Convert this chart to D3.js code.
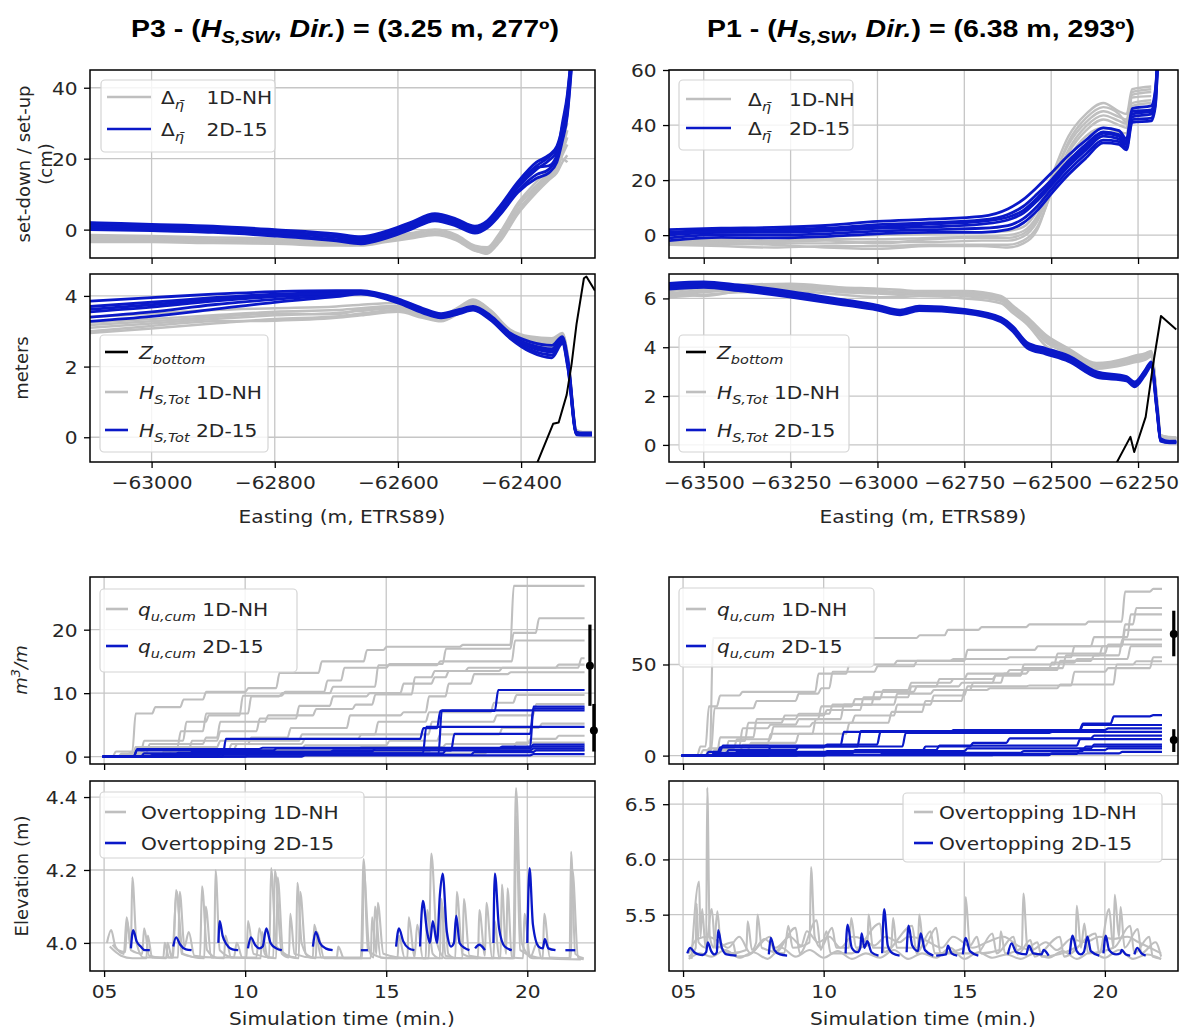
<!DOCTYPE html>
<html>
<head>
<meta charset="utf-8">
<script src="https://cdn.jsdelivr.net/npm/d3@7"></script>
<style>
  body { margin: 0; background: #fff; }
  svg { display: block; }
</style>
</head>
<body>
<svg id="fig" width="1187" height="1035"></svg>
<script>
// ---------------------------------------------------------------
// Data
// ---------------------------------------------------------------

// Set-down / set-up (cm), P3 transect
const eastA = [-63100, -63000, -62900, -62800, -62700, -62660, -62620, -62580, -62540, -62505, -62475, -62455, -62435, -62405, -62375, -62355, -62342, -62333, -62325, -62318];
const setupP3_2D = [
  [2.0, 1.5, 1.0, 0.0, -1.2, -2.0, -0.5, 2.0, 4.5, 3.0, 1.0, 2.5, 6.5, 13.5, 19.0, 21.0, 23.5, 29.0, 37.0, 50],
  [1.5, 1.0, 0.5, -0.5, -1.8, -2.5, -1.0, 1.5, 4.0, 2.5, 0.5, 2.0, 6.0, 13.0, 18.0, 20.5, 23.0, 28.0, 36.0, 49],
  [1.0, 0.5, 0.0, -1.0, -2.2, -3.0, -1.5, 1.0, 3.5, 2.0, -0.2, 1.5, 5.0, 12.0, 17.0, 19.5, 22.0, 27.0, 35.0, 48],
  [0.5, 0.0, -0.5, -1.5, -2.8, -3.5, -2.0, 0.5, 3.0, 1.5, -0.5, 1.0, 4.5, 11.0, 15.5, 17.0, 20.5, 26.0, 33.0, 47],
  [0.0, -0.3, -0.8, -1.8, -3.2, -4.0, -2.5, 0.0, 2.5, 1.0, -1.0, 0.5, 4.0, 10.5, 14.5, 16.0, 19.0, 25.0, 32.0, 46],
  [1.8, 1.2, 0.3, -0.8, -2.0, -2.8, -1.2, 1.2, 3.8, 2.2, 0.2, 1.8, 5.5, 12.5, 17.5, 18.0, 21.0, 30.0, 38.0, 50]
];
const setupP3_1D = [
  [-1.5, -1.8, -2.2, -2.5, -3.0, -3.0, -2.0, -1.0, 0.0, -1.5, -4.5, -5.0, -1.0, 7.5, 13.5, 17.0, 19.0, 23.0, 28.0, null],
  [-2.0, -2.3, -2.8, -3.0, -3.5, -3.5, -2.5, -1.5, -0.5, -2.0, -5.0, -5.5, -2.0, 6.5, 12.5, 16.0, 18.0, 22.0, 26.0, null],
  [-2.5, -2.8, -3.2, -3.5, -4.0, -4.0, -3.0, -2.0, -1.0, -2.5, -5.5, -6.0, -2.5, 5.5, 11.5, 15.0, 17.0, 21.0, 24.0, null],
  [-3.0, -3.2, -3.6, -3.8, -4.3, -4.5, -3.5, -2.5, -1.5, -3.0, -6.0, -6.5, -3.5, 4.5, 10.5, 14.0, 16.0, 19.0, 21.0, null],
  [-3.5, -3.5, -3.8, -4.0, -4.5, -4.2, -3.2, -2.0, -1.2, -2.8, -5.8, -6.8, -3.0, 5.0, 11.0, 14.5, 17.5, 25.0, 30.0, null],
  [-2.2, -2.5, -3.0, -3.2, -3.8, -3.8, -2.8, -1.8, -0.8, -2.2, -5.2, -5.8, -1.5, 7.0, 12.0, 15.5, 18.5, 20.0, 19.0, null]
];

// Significant wave height (m), P3 transect
const eastB = [-63100, -63000, -62900, -62800, -62700, -62660, -62600, -62560, -62530, -62500, -62478, -62450, -62418, -62385, -62350, -62333, -62324, -62310, -62300, -62285];
const hsP3_2D = [
  [3.85, 3.95, 4.05, 4.12, 4.15, 4.15, 3.92, 3.65, 3.50, 3.62, 3.70, 3.45, 2.95, 2.70, 2.60, 2.85, 2.20, 0.15, 0.12, 0.12],
  [3.70, 3.82, 3.95, 4.05, 4.10, 4.12, 3.88, 3.60, 3.45, 3.58, 3.66, 3.40, 2.90, 2.62, 2.50, 2.80, 2.10, 0.12, 0.10, 0.10],
  [3.55, 3.68, 3.85, 3.98, 4.06, 4.10, 3.85, 3.57, 3.42, 3.55, 3.64, 3.37, 2.86, 2.55, 2.42, 2.75, 2.05, 0.10, 0.08, 0.08],
  [3.40, 3.55, 3.75, 3.90, 4.02, 4.08, 3.83, 3.55, 3.40, 3.52, 3.62, 3.34, 2.82, 2.48, 2.33, 2.70, 2.00, 0.08, 0.07, 0.07],
  [3.28, 3.42, 3.62, 3.82, 3.98, 4.05, 3.80, 3.52, 3.38, 3.50, 3.60, 3.32, 2.80, 2.42, 2.25, 2.65, 1.95, 0.07, 0.06, 0.06],
  [3.62, 3.75, 3.90, 4.02, 4.08, 4.11, 3.86, 3.58, 3.44, 3.56, 3.65, 3.39, 2.88, 2.58, 2.46, 2.78, 2.12, 0.11, 0.09, 0.09]
];
const hsP3_1D = [
  [3.40, 3.50, 3.60, 3.65, 3.70, 3.75, 3.80, 3.55, 3.45, 3.70, 3.90, 3.60, 3.05, 2.85, 2.80, 2.95, 2.30, 0.20, 0.15, 0.15],
  [3.25, 3.35, 3.45, 3.55, 3.60, 3.65, 3.72, 3.50, 3.40, 3.65, 3.85, 3.55, 3.00, 2.80, 2.72, 2.90, 2.25, 0.18, 0.13, 0.13],
  [3.10, 3.22, 3.35, 3.45, 3.52, 3.58, 3.66, 3.45, 3.35, 3.60, 3.82, 3.50, 2.98, 2.75, 2.66, 2.85, 2.20, 0.16, 0.12, 0.12],
  [2.95, 3.08, 3.22, 3.35, 3.42, 3.50, 3.60, 3.40, 3.30, 3.55, 3.78, 3.48, 2.95, 2.70, 2.60, 2.82, 2.15, 0.15, 0.11, 0.11],
  [3.00, 3.15, 3.28, 3.30, 3.38, 3.45, 3.55, 3.38, 3.28, 3.52, 3.75, 3.45, 2.92, 2.66, 2.55, 2.78, 2.12, 0.14, 0.10, 0.10],
  [3.18, 3.28, 3.40, 3.50, 3.48, 3.62, 3.70, 3.48, 3.38, 3.62, 3.88, 3.58, 3.02, 2.78, 2.76, 2.92, 2.28, 0.17, 0.14, 0.14]
];
const zBottomP3East = [-62385, -62348, -62339, -62326, -62318, -62310, -62298, -62294, -62280];
const zBottomP3 = [-1.2, 0.38, 0.42, 1.2, 2.07, 3.2, 4.5, 4.55, 4.15];

// Set-down / set-up (cm), P1 transect
const eastC = [-63600, -63450, -63300, -63150, -63000, -62850, -62700, -62625, -62580, -62540, -62500, -62450, -62400, -62350, -62305, -62283, -62267, -62212, -62200, -62194];
const setupP1_2D = [
  [2.0, 2.5, 2.8, 3.5, 5.0, 5.8, 6.8, 9.5, 13.0, 17.5, 22.5, 29.0, 34.5, 39.0, 38.0, 35.0, 46.0, 47.0, 53, 64],
  [1.0, 1.8, 2.0, 2.5, 3.8, 4.5, 5.5, 7.5, 10.5, 15.0, 20.0, 27.0, 33.0, 37.5, 36.5, 34.0, 45.0, 45.5, 52, 63],
  [0.0, 1.0, 1.0, 1.5, 2.5, 3.0, 4.0, 5.5, 8.0, 12.5, 18.0, 25.0, 31.0, 36.0, 35.0, 33.0, 43.0, 44.0, 50, 62],
  [-1.0, 0.2, 0.0, 0.5, 1.5, 2.0, 2.5, 3.5, 6.0, 10.5, 16.5, 23.5, 29.5, 34.5, 34.0, 32.0, 42.0, 42.5, 48, 61],
  [-2.0, -0.8, -1.0, -0.5, 0.5, 1.0, 1.0, 2.0, 4.5, 9.0, 15.0, 22.0, 28.0, 33.5, 33.0, 31.0, 41.0, 41.5, 47, 61],
  [0.5, 1.5, 1.8, 2.2, 3.0, 4.0, 5.0, 6.5, 9.0, 13.5, 19.0, 26.0, 32.0, 37.0, 36.0, 33.5, 44.0, 45.0, 51, 63]
];
const setupP1_1D = [
  [-1.0, -1.5, -1.0, -0.5, 0.0, 0.5, 1.0, 1.5, 3.0, 9.0, 21.0, 36.0, 44.0, 48.0, 45.0, 44.0, 53.0, 54.0, null, null],
  [-2.0, -2.5, -2.0, -1.5, -1.5, -1.0, -0.5, 0.0, 1.5, 7.0, 19.0, 33.0, 41.0, 45.0, 43.0, 42.0, 51.0, 52.0, null, null],
  [-3.0, -3.5, -3.0, -3.0, -2.5, -2.5, -2.0, -2.0, -0.5, 5.0, 17.0, 30.0, 38.0, 42.0, 40.0, 39.0, 50.0, 50.5, null, null],
  [-3.5, -4.0, -4.5, -4.0, -4.0, -3.5, -3.5, -3.5, -2.0, 3.0, 15.0, 28.0, 36.0, 39.0, 37.5, 37.0, 47.0, 48.0, null, null],
  [-2.5, -3.0, -3.5, -4.5, -5.0, -4.0, -4.0, -4.5, -3.0, 2.0, 16.0, 31.0, 39.5, 43.5, 41.5, 40.5, 52.0, 53.0, null, null],
  [-1.5, -2.0, -2.5, -2.0, -3.0, -1.5, -1.0, -1.0, 0.5, 6.0, 18.0, 34.0, 42.5, 46.5, 44.0, 41.0, 48.0, 49.0, null, null]
];

// Significant wave height (m), P1 transect
const eastD = [-63600, -63500, -63400, -63250, -63100, -63000, -62935, -62880, -62750, -62645, -62610, -62570, -62515, -62450, -62370, -62283, -62260, -62230, -62212, -62195, -62185, -62160, -62140];
const hsP1_2D = [
  [6.62, 6.68, 6.55, 6.28, 5.95, 5.72, 5.52, 5.68, 5.55, 5.22, 4.85, 4.20, 3.95, 3.65, 3.00, 2.80, 2.58, 3.05, 3.40, 1.50, 0.25, 0.15, 0.15],
  [6.52, 6.60, 6.48, 6.20, 5.88, 5.65, 5.45, 5.62, 5.50, 5.16, 4.78, 4.12, 3.86, 3.56, 2.92, 2.73, 2.50, 2.98, 3.33, 1.40, 0.20, 0.12, 0.12],
  [6.45, 6.52, 6.40, 6.12, 5.80, 5.58, 5.38, 5.56, 5.45, 5.10, 4.70, 4.05, 3.78, 3.48, 2.85, 2.68, 2.44, 2.92, 3.28, 1.35, 0.18, 0.10, 0.10],
  [6.38, 6.45, 6.32, 6.05, 5.74, 5.52, 5.33, 5.50, 5.40, 5.05, 4.64, 3.98, 3.72, 3.42, 2.78, 2.62, 2.38, 2.86, 3.22, 1.30, 0.15, 0.08, 0.08],
  [6.58, 6.64, 6.50, 6.24, 5.90, 5.69, 5.48, 5.65, 5.52, 5.19, 4.80, 4.16, 3.90, 3.60, 2.95, 2.76, 2.54, 3.02, 3.36, 1.45, 0.22, 0.13, 0.13]
];
const hsP1_1D = [
  [6.30, 6.45, 6.55, 6.60, 6.45, 6.40, 6.35, 6.30, 6.30, 6.10, 5.70, 5.25, 4.50, 3.95, 3.35, 3.55, 3.65, 3.75, 3.85, 1.80, 0.40, 0.32, 0.30],
  [6.20, 6.35, 6.45, 6.50, 6.35, 6.30, 6.25, 6.25, 6.20, 6.00, 5.60, 5.15, 4.35, 3.85, 3.28, 3.45, 3.55, 3.65, 3.75, 1.70, 0.38, 0.30, 0.28],
  [6.10, 6.25, 6.35, 6.40, 6.25, 6.20, 6.15, 6.18, 6.10, 5.90, 5.50, 5.05, 4.20, 3.75, 3.20, 3.38, 3.45, 3.55, 3.70, 1.65, 0.36, 0.28, 0.26],
  [6.05, 6.15, 6.25, 6.30, 6.15, 6.05, 6.05, 6.10, 6.00, 5.80, 5.40, 4.95, 4.05, 3.65, 3.12, 3.30, 3.38, 3.48, 3.62, 1.60, 0.34, 0.27, 0.25],
  [6.25, 6.10, 6.30, 6.45, 6.30, 6.35, 6.20, 6.20, 6.25, 6.05, 5.65, 5.20, 4.42, 3.90, 3.30, 3.50, 3.60, 3.70, 3.80, 1.75, 0.39, 0.31, 0.29],
  [6.15, 6.30, 6.40, 6.55, 6.40, 6.25, 6.30, 6.15, 6.15, 5.95, 5.55, 5.10, 4.28, 3.80, 3.24, 3.42, 3.50, 3.60, 3.66, 1.68, 0.37, 0.29, 0.27]
];
const zBottomP1East = [-62318, -62272, -62261, -62228, -62206, -62184, -62162, -62140];
const zBottomP1 = [-0.9, 0.33, -0.29, 1.15, 3.35, 5.28, 5.0, 4.73];

// Cumulative overtopping discharge (m3/m): jumps as [time (min), new cumulative value]
const qStart = 4.95, qEnd = 22.03;
const qP3_1D = [
  [[5.3, 0.8], [6.0, 6.8], [6.7, 7.8], [7.7, 9.0], [8.5, 10.2], [10.0, 10.8], [11.1, 13.2], [12.6, 15.0], [14.2, 16.8], [14.9, 17.3], [17.6, 17.6], [19.4, 26.9]],
  [[5.5, 0.5], [6.3, 2.5], [7.8, 5.5], [8.6, 6.5], [9.8, 9.6], [11.3, 10.2], [12.8, 12.0], [13.4, 14.0], [15.0, 14.6], [17.0, 17.0], [19.4, 19.5], [20.3, 21.8]],
  [[6.0, 1.5], [7.6, 4.0], [8.5, 6.8], [10.1, 9.5], [11.2, 10.0], [13.0, 11.0], [14.6, 14.4], [16.8, 15.0], [19.45, 18.3]],
  [[5.8, 0.6], [6.5, 2.0], [8.5, 3.0], [9.0, 5.5], [10.7, 6.5], [12.4, 7.5], [13.8, 8.2], [14.5, 9.8], [15.9, 12.5], [16.6, 13.5], [17.8, 14.0], [21.8, 15.5]],
  [[6.3, 1.0], [8.0, 2.5], [9.0, 4.0], [10.4, 6.0], [11.8, 8.0], [13.0, 9.5], [14.3, 10.0], [15.5, 11.5], [16.6, 12.5], [17.1, 13.5], [19.0, 14.0], [21.0, 14.5]],
  [[7.0, 0.8], [9.4, 2.0], [10.1, 3.0], [11.5, 4.5], [13.6, 6.5], [15.5, 7.0], [16.4, 9.5], [17.1, 11.5], [18.0, 13.0], [19.3, 13.3]],
  [[5.5, 0.3], [7.3, 1.5], [9.0, 2.5], [11.9, 3.5], [14.6, 5.5], [16.4, 7.0], [18.7, 8.5], [19.5, 9.7]],
  [[6.0, 0.5], [8.3, 1.2], [9.6, 2.0], [12.0, 2.8], [14.0, 3.5], [16.5, 5.5], [18.8, 6.5], [20.2, 8.3]],
  [[6.5, 0.3], [8.7, 1.0], [12.0, 1.8], [15.0, 2.5], [16.8, 3.5], [19.0, 4.5], [20.4, 5.2]],
  [[7.5, 0.4], [10.5, 1.0], [14.0, 1.5], [17.0, 2.0], [20.0, 2.8], [21.0, 3.3]],
  [[9.0, 0.3], [13.0, 0.8], [16.5, 1.2], [19.5, 2.2]],
  [[10.0, 0.2], [15.0, 0.5], [18.5, 1.0]]
];
const qP3_2D = [
  [[9.2, 2.8], [16.2, 4.5], [16.8, 7.2], [18.85, 10.5]],
  [[6.05, 1.2], [10.5, 1.4], [20.1, 7.9]],
  [[7.5, 0.6], [13.0, 1.0], [17.3, 3.6], [20.1, 7.6]],
  [[6.6, 0.3], [16.85, 7.3]],
  [[6.3, 0.5], [16.3, 4.7]],
  [[8.0, 0.8], [14.5, 1.3], [20.1, 1.9]],
  [[6.05, 1.0], [11.0, 1.3], [19.0, 1.6]],
  [[9.0, 0.5], [17.0, 1.0], [20.1, 1.3]],
  [[10.0, 0.3], [18.0, 0.7], [20.2, 1.0]],
  [[12.0, 0.2], [20.1, 0.4]]
];
const qP1_1D = [
  [[5.95, 64.5], [13.3, 66.0], [14.3, 69.0], [15.5, 70.5], [17.2, 72.0], [19.3, 73.5], [20.6, 90.0], [21.6, 91.5]],
  [[5.5, 5.0], [5.8, 27.0], [6.2, 33.0], [7.0, 35.0], [9.7, 45.0], [10.8, 50.0], [12.5, 52.0], [14.5, 53.0], [16.5, 54.0], [18.8, 60.0], [20.6, 72.0], [21.0, 81.0]],
  [[5.6, 3.0], [6.0, 26.0], [7.5, 30.0], [9.0, 34.0], [9.8, 37.0], [10.2, 46.0], [11.8, 49.0], [13.2, 52.0], [15.0, 58.0], [17.5, 60.0], [19.5, 65.0], [20.8, 77.5]],
  [[6.3, 5.0], [7.0, 15.0], [8.0, 17.0], [9.0, 20.0], [9.8, 27.0], [11.0, 31.0], [12.0, 36.0], [13.0, 40.0], [14.5, 42.0], [16.0, 44.0], [17.0, 48.0], [18.5, 55.0], [19.8, 60.0], [20.6, 69.0]],
  [[6.5, 8.0], [7.2, 18.0], [8.5, 22.0], [10.0, 25.0], [11.3, 32.0], [13.0, 38.0], [14.0, 42.0], [15.0, 45.0], [16.5, 47.0], [18.3, 52.0], [19.5, 55.0], [20.5, 63.7]],
  [[7.0, 6.0], [8.0, 12.0], [9.6, 20.0], [10.6, 28.0], [12.5, 34.0], [13.8, 36.0], [15.2, 40.0], [16.0, 44.0], [17.0, 50.0], [18.2, 56.0], [20.0, 61.0]],
  [[6.2, 10.0], [7.5, 20.0], [9.0, 23.0], [10.2, 28.0], [11.7, 35.0], [13.2, 38.0], [14.8, 40.0], [16.3, 45.0], [17.2, 47.0], [18.0, 51.0], [18.9, 53.0], [20.8, 60.0]],
  [[5.8, 4.0], [6.8, 9.0], [8.1, 16.0], [9.5, 18.0], [11.0, 22.0], [12.5, 28.0], [13.8, 33.0], [15.0, 38.0], [17.2, 38.5], [18.8, 46.0], [20.0, 48.0], [21.6, 54.0]],
  [[6.0, 3.0], [7.3, 7.0], [9.0, 12.0], [10.8, 18.0], [12.3, 24.0], [13.5, 30.0], [14.9, 36.0], [15.8, 37.0], [18.3, 39.0], [20.3, 50.0], [21.0, 51.8]]
];
const qP1_2D = [
  [[5.8, 2.0], [6.3, 5.5], [10.6, 13.0], [14.5, 14.0], [19.1, 17.5], [20.2, 21.5], [21.6, 22.2]],
  [[6.0, 1.5], [8.0, 5.0], [11.2, 13.5], [19.1, 16.8]],
  [[6.2, 4.5], [10.0, 6.0], [11.9, 13.0], [15.5, 14.0], [20.0, 15.0]],
  [[6.5, 3.0], [9.0, 5.0], [12.8, 12.5], [18.0, 13.0]],
  [[6.8, 2.0], [13.5, 5.0], [15.2, 7.0], [16.5, 9.5], [19.5, 11.0]],
  [[7.0, 1.0], [11.0, 3.0], [14.0, 5.5], [19.0, 9.0]],
  [[6.0, 0.8], [10.0, 2.5], [15.0, 4.0], [19.5, 6.0]],
  [[8.0, 0.5], [12.0, 1.5], [17.0, 2.5], [19.2, 5.0]],
  [[9.0, 0.3], [16.0, 1.0], [19.0, 3.0], [20.0, 4.0]],
  [[10.0, 0.3], [18.0, 1.2], [20.5, 2.0]]
];
// Ensemble spread of the final cumulative volume: [time, low, mean, high]
const qP3Spread = [[22.22, 8.0, 14.3, 20.8], [22.36, 0.8, 4.1, 8.3]];
const qP1Spread = [[22.45, 54.5, 66.7, 79.5], [22.45, 2.0, 8.6, 14.5]];

// Overtopping water elevation (m) as [time (min), elevation]
const overP3_1D = [
  [[5.1, 4.0], [5.25, 4.035], [5.4, 3.99], [5.7, 3.97], [5.8, 4.07], [5.95, 3.99], [6.0, 4.18], [6.15, 4.0], [6.4, 3.96], [7.1, 3.96], [7.15, 4.0], [7.3, 3.96], [7.45, 3.96], [7.55, 4.145], [7.8, 3.97], [8.4, 3.96], [8.47, 4.155], [8.65, 3.98], [9.0, 3.96], [9.7, 3.96], [10.4, 3.96], [10.5, 4.04], [10.7, 3.97], [10.85, 3.96], [10.92, 4.205], [11.1, 3.99], [11.8, 3.96], [11.85, 4.165], [12.0, 4.0], [12.3, 3.96], [14.1, 3.96], [14.2, 4.23], [14.35, 3.98], [15.0, 3.958], [16.5, 3.958], [16.6, 4.245], [16.8, 4.0], [17.1, 3.958], [19.5, 3.958], [19.6, 4.425], [19.8, 4.0], [20.2, 3.958], [21.5, 3.958], [21.55, 4.25], [21.7, 3.97], [22.0, 3.958]],
  [[5.3, 3.995], [5.5, 3.98], [5.75, 3.975], [5.82, 4.06], [5.95, 3.98], [6.35, 3.97], [6.42, 4.04], [6.6, 3.965], [7.0, 3.96], [7.62, 3.96], [7.68, 4.14], [7.85, 3.99], [8.0, 4.03], [8.2, 3.965], [8.9, 3.96], [8.95, 4.2], [9.1, 3.98], [9.6, 3.96], [9.7, 4.0], [9.9, 3.96], [10.05, 3.96], [10.1, 4.06], [10.3, 3.97], [11.0, 3.96], [11.05, 4.2], [11.3, 3.97], [11.55, 3.96], [11.6, 4.08], [11.75, 3.97], [12.4, 3.96], [12.45, 4.05], [12.7, 3.96], [13.25, 3.96], [13.3, 3.99], [13.5, 3.958], [14.45, 3.958], [14.5, 4.07], [14.65, 3.97], [14.7, 4.11], [14.9, 3.97], [15.75, 3.958], [15.8, 4.07], [16.0, 3.96], [16.1, 4.05], [16.3, 3.958], [17.0, 3.958], [17.05, 4.1], [17.2, 3.97], [17.45, 3.958], [17.5, 4.14], [17.7, 3.97], [18.25, 3.958], [18.3, 4.09], [18.5, 3.965], [18.55, 4.11], [18.75, 3.96], [19.05, 3.958], [19.1, 4.16], [19.25, 3.97], [19.3, 4.15], [19.45, 3.96], [19.85, 3.958], [19.9, 4.08], [20.1, 3.96], [20.35, 4.0], [20.5, 3.958], [21.9, 3.955]],
  [[5.2, 3.99], [5.6, 3.965], [6.0, 3.958], [6.5, 3.958], [6.55, 4.02], [6.7, 3.96], [7.2, 3.958], [7.25, 4.0], [7.4, 3.96], [7.58, 4.14], [7.75, 3.97], [8.55, 3.958], [8.6, 4.1], [8.8, 3.96], [9.25, 3.958], [9.3, 4.02], [9.5, 3.96], [10.55, 3.958], [10.6, 4.03], [10.8, 3.96], [11.1, 3.958], [11.15, 4.18], [11.35, 3.97], [11.9, 3.958], [11.95, 4.14], [12.15, 3.97], [12.5, 3.958], [12.55, 4.03], [12.8, 3.958], [14.15, 3.958], [14.2, 4.2], [14.4, 3.98], [14.55, 3.96], [14.6, 4.1], [14.8, 3.96], [15.4, 3.958], [15.45, 4.02], [15.65, 3.96], [16.4, 3.958], [16.45, 4.09], [16.65, 3.97], [16.9, 3.958], [16.95, 4.12], [17.1, 3.965], [17.7, 3.958], [17.75, 4.12], [17.95, 3.965], [18.8, 3.958], [18.85, 4.06], [19.0, 3.96], [19.55, 3.958], [19.6, 4.35], [19.75, 3.98], [20.55, 3.958], [20.6, 4.08], [20.8, 3.96], [21.55, 3.958], [21.6, 4.2], [21.8, 3.96], [22.0, 3.955]]
];
const overP3_2D = [
  [[5.95, 3.985], [6.03, 4.035], [6.15, 4.005], [6.3, 3.99], [6.45, 3.98], [6.62, 3.98]],
  [[7.45, 3.99], [7.55, 4.015], [7.7, 3.995], [7.9, 3.982], [8.1, 3.98]],
  [[9.05, 4.0], [9.1, 4.06], [9.2, 4.02], [9.35, 3.995], [9.55, 3.982], [9.75, 3.98]],
  [[10.1, 3.985], [10.2, 4.015], [10.35, 3.995], [10.5, 3.985], [10.62, 3.99], [10.75, 4.04], [10.9, 4.0], [11.1, 3.985], [11.3, 3.98]],
  [[12.4, 3.99], [12.5, 4.03], [12.65, 4.0], [12.85, 3.985], [13.1, 3.98]],
  [[14.1, 3.98], [14.35, 3.98]],
  [[15.35, 3.99], [15.45, 4.04], [15.6, 4.005], [15.8, 3.985], [16.0, 3.98]],
  [[16.2, 3.99], [16.3, 4.115], [16.45, 4.03], [16.55, 4.0], [16.65, 4.06], [16.8, 4.0], [16.9, 4.13], [17.0, 4.19], [17.15, 4.03], [17.3, 3.99], [17.4, 4.0], [17.48, 4.075], [17.6, 4.0], [17.8, 3.985], [17.95, 3.98]],
  [[18.15, 3.985], [18.3, 3.995], [18.5, 3.98]],
  [[18.8, 4.0], [18.85, 4.19], [19.0, 4.04], [19.2, 3.99], [19.45, 3.98]],
  [[20.0, 4.0], [20.08, 4.205], [20.2, 4.05], [20.4, 3.99], [20.55, 3.985], [20.62, 4.01], [20.75, 3.985], [21.0, 3.98]],
  [[21.35, 3.98], [21.7, 3.98]]
];
const overP1_1D = [
  [[5.2, 5.12], [5.45, 5.2], [5.48, 5.6], [5.55, 5.25], [5.82, 5.2], [5.86, 6.65], [5.95, 5.3], [6.1, 5.2], [6.22, 5.53], [6.35, 5.2], [6.7, 5.15], [7.25, 5.18], [7.3, 5.44], [7.45, 5.18], [7.6, 5.25], [7.65, 5.5], [7.8, 5.2], [8.6, 5.15], [8.74, 5.4], [8.9, 5.2], [9.5, 5.25], [9.55, 5.93], [9.68, 5.3], [9.9, 5.2], [10.3, 5.38], [10.45, 5.2], [10.9, 5.2], [10.98, 5.47], [11.15, 5.2], [11.55, 5.22], [11.6, 5.5], [11.75, 5.2], [12.4, 5.2], [12.47, 5.47], [12.6, 5.2], [13.35, 5.2], [13.4, 5.5], [13.55, 5.2], [14.0, 5.38], [14.15, 5.15], [15.0, 5.2], [15.05, 5.66], [15.2, 5.22], [15.45, 5.3], [15.6, 5.15], [16.25, 5.18], [16.3, 5.35], [16.45, 5.15], [17.05, 5.2], [17.1, 5.69], [17.25, 5.2], [17.6, 5.25], [17.75, 5.12], [18.95, 5.2], [19.0, 5.58], [19.15, 5.2], [19.27, 5.42], [19.4, 5.15], [20.3, 5.2], [20.35, 5.68], [20.5, 5.3], [20.56, 5.57], [20.7, 5.2], [21.17, 5.37], [21.3, 5.15], [21.8, 5.25], [22.0, 5.12]],
  [[5.3, 5.1], [5.57, 5.8], [5.62, 5.3], [5.68, 5.55], [5.8, 5.2], [6.02, 5.55], [6.15, 5.2], [6.77, 5.25], [6.9, 5.12], [7.3, 5.13], [8.1, 5.3], [8.25, 5.15], [9.0, 5.38], [9.15, 5.15], [9.75, 5.45], [9.9, 5.18], [10.1, 5.35], [10.25, 5.15], [11.0, 5.15], [12.0, 5.42], [12.15, 5.16], [13.15, 5.4], [13.3, 5.15], [13.8, 5.35], [13.95, 5.15], [15.45, 5.15], [16.0, 5.33], [16.15, 5.15], [16.75, 5.3], [16.9, 5.14], [17.35, 5.27], [17.5, 5.12], [18.4, 5.3], [18.55, 5.12], [19.67, 5.33], [19.8, 5.15], [20.15, 5.55], [20.3, 5.2], [20.9, 5.4], [21.05, 5.15], [21.58, 5.3], [21.7, 5.12], [22.0, 5.1]],
  [[5.2, 5.15], [5.5, 5.28], [5.9, 5.3], [6.3, 5.25], [6.6, 5.2], [7.0, 5.3], [7.4, 5.15], [7.9, 5.28], [8.3, 5.2], [8.8, 5.3], [9.2, 5.22], [9.4, 5.35], [9.8, 5.25], [10.2, 5.3], [10.6, 5.2], [11.0, 5.3], [11.4, 5.28], [11.8, 5.22], [12.2, 5.3], [12.7, 5.25], [13.0, 5.3], [13.6, 5.27], [14.2, 5.2], [14.6, 5.3], [15.3, 5.2], [15.8, 5.25], [16.4, 5.3], [16.9, 5.22], [17.4, 5.18], [17.9, 5.25], [18.3, 5.18], [18.8, 5.28], [19.3, 5.25], [19.8, 5.3], [20.3, 5.28], [20.8, 5.3], [21.2, 5.25], [21.6, 5.2], [22.0, 5.15]],
  [[5.2, 5.1], [5.6, 5.15], [6.0, 5.12], [6.5, 5.18], [7.0, 5.11], [7.5, 5.16], [8.0, 5.1], [8.5, 5.2], [9.0, 5.12], [9.5, 5.18], [10.0, 5.11], [10.5, 5.17], [11.0, 5.1], [11.5, 5.15], [12.0, 5.11], [12.5, 5.18], [13.0, 5.1], [13.5, 5.15], [14.0, 5.11], [14.5, 5.2], [15.0, 5.1], [15.5, 5.16], [16.0, 5.11], [16.5, 5.14], [17.0, 5.1], [17.5, 5.15], [18.0, 5.11], [18.5, 5.17], [19.0, 5.1], [19.5, 5.16], [20.0, 5.11], [20.5, 5.18], [21.0, 5.1], [21.5, 5.14], [22.0, 5.1]]
];
const overP1_2D = [
  [[5.15, 5.15], [5.25, 5.2], [5.4, 5.16], [5.55, 5.14], [5.7, 5.135], [5.82, 5.16], [5.88, 5.25], [6.0, 5.17], [6.12, 5.14], [6.2, 5.16], [6.25, 5.36], [6.38, 5.2], [6.55, 5.14], [6.9, 5.13]],
  [[8.05, 5.14], [8.12, 5.29], [8.25, 5.18], [8.45, 5.14], [8.7, 5.13]],
  [[10.78, 5.15], [10.85, 5.41], [11.0, 5.2], [11.2, 5.16], [11.3, 5.2], [11.35, 5.33], [11.45, 5.2], [11.55, 5.26], [11.7, 5.16], [11.95, 5.13]],
  [[12.08, 5.15], [12.15, 5.55], [12.28, 5.22], [12.45, 5.15], [12.7, 5.13]],
  [[12.95, 5.16], [13.02, 5.4], [13.15, 5.22], [13.35, 5.17], [13.45, 5.33], [13.6, 5.18], [13.9, 5.13]],
  [[14.0, 5.13], [14.35, 5.14], [14.42, 5.22], [14.55, 5.15], [14.75, 5.13]],
  [[14.95, 5.14], [15.05, 5.29], [15.2, 5.17], [15.5, 5.13]],
  [[16.55, 5.14], [16.68, 5.24], [16.85, 5.16], [17.2, 5.14], [17.3, 5.22], [17.45, 5.15], [17.75, 5.14], [17.82, 5.18], [18.0, 5.13]],
  [[18.75, 5.14], [18.85, 5.31], [19.0, 5.17], [19.15, 5.14], [19.25, 5.16], [19.38, 5.3], [19.5, 5.17], [19.8, 5.13]],
  [[19.95, 5.15], [20.03, 5.31], [20.15, 5.18], [20.4, 5.14], [20.55, 5.15], [20.6, 5.18], [20.75, 5.14], [20.9, 5.13]],
  [[21.05, 5.14], [21.15, 5.2], [21.3, 5.15], [21.45, 5.13]]
];

// Tick values
const eastTicksP3 = [-63000, -62800, -62600, -62400];
const eastTicksP1 = [-63500, -63250, -63000, -62750, -62500, -62250];
const timeTicks = [5, 10, 15, 20];

// ---------------------------------------------------------------
// Drawing helpers
// ---------------------------------------------------------------
const GRAY = "#bfbfbf";
const BLUE = "#0a18c8";
const TXT = "#262626";
const FONT = "'DejaVu Sans', sans-serif";
const SX = 1.12;           // horizontal text stretch of the figure
const svg = d3.select("#fig");

function richText(parent, x, y, segs, opt = {}) {
  const size = opt.size || 18;
  const sx = opt.sx == null ? SX : opt.sx;
  let tf = `translate(${x},${y})`;
  if (opt.rotate) tf += ` rotate(${opt.rotate})`;
  tf += ` scale(${sx},1)`;
  const t = parent.append("text")
    .attr("transform", tf)
    .attr("font-family", opt.family || FONT)
    .attr("font-size", size)
    .attr("font-weight", opt.weight || "normal")
    .attr("text-anchor", opt.anchor || "start")
    .attr("fill", opt.fill || TXT);
  let shift = 0;
  segs.forEach(s => {
    if (typeof s === "string") s = { t: s };
    const off = s.sub ? size * 0.28 : (s.sup ? -size * 0.4 : 0);
    const ts = t.append("tspan").text(s.t);
    if (off - shift !== 0) ts.attr("dy", off - shift);
    shift = off;
    if (s.sub || s.sup) ts.attr("font-size", size * 0.72);
    if (s.it) ts.attr("font-style", "italic");
    if (s.dx) ts.attr("dx", s.dx);
  });
  return t;
}

let clipCount = 0;
function makePanel(c) {
  const x = d3.scaleLinear().domain(c.xDomain).range([c.x0, c.x1]);
  const y = d3.scaleLinear().domain(c.yDomain).range([c.y1, c.y0]);
  const g = svg.append("g");
  const id = "clip" + (clipCount++);
  svg.append("clipPath").attr("id", id).append("rect")
    .attr("x", c.x0).attr("y", c.y0).attr("width", c.x1 - c.x0).attr("height", c.y1 - c.y0);

  // grid
  const grid = g.append("g").attr("stroke", "#c6c6c6").attr("stroke-width", 1.3);
  grid.selectAll(".gx").data(c.xTicks).join("line")
    .attr("x1", d => x(d)).attr("x2", d => x(d)).attr("y1", c.y0).attr("y2", c.y1);
  grid.selectAll(".gy").data(c.yTicks).join("line")
    .attr("x1", c.x0).attr("x2", c.x1).attr("y1", d => y(d)).attr("y2", d => y(d));

  const plot = g.append("g").attr("clip-path", `url(#${id})`);

  // axes
  const ax = g.append("g").attr("transform", `translate(0,${c.y1})`)
    .call(d3.axisBottom(x).tickValues(c.xTicks).tickSize(6).tickPadding(7)
      .tickFormat(c.xLabels ? c.xFmt : () => ""));
  const ay = g.append("g").attr("transform", `translate(${c.x0},0)`)
    .call(d3.axisLeft(y).tickValues(c.yTicks).tickSize(6).tickPadding(5).tickFormat(c.yFmt));
  [ax, ay].forEach(a => {
    a.select(".domain").remove();
    a.selectAll(".tick line").attr("stroke", "#000").attr("stroke-width", 1.3);
    a.selectAll(".tick text").attr("font-family", FONT).attr("font-size", 18)
      .attr("fill", TXT).attr("transform", `scale(${SX},1)`);
  });
  ax.selectAll(".tick text").attr("dy", "0.78em");
  ay.selectAll(".tick text").attr("dy", "0.36em");

  g.append("rect").attr("x", c.x0).attr("y", c.y0)
    .attr("width", c.x1 - c.x0).attr("height", c.y1 - c.y0)
    .attr("fill", "none").attr("stroke", "#000").attr("stroke-width", 1.5);
  return { x, y, g, plot };
}

function drawLines(p, series, color, width, curve) {
  const line = d3.line()
    .defined(d => d[1] != null)
    .x(d => p.x(d[0])).y(d => p.y(d[1]))
    .curve(curve || d3.curveMonotoneX);
  p.plot.append("g").selectAll("path").data(series).join("path")
    .attr("d", line).attr("fill", "none").attr("stroke", color)
    .attr("stroke-width", width).attr("stroke-linejoin", "round");
}

const zipX = (xs, rows) => rows.map(r => r.map((v, i) => [xs[i], v]));

// cumulative step curves from their jump list
function stepPoints(jumps) {
  const pts = [[qStart, 0]];
  let v = 0;
  jumps.forEach(([t, nv]) => { pts.push([t, v]); pts.push([t + 0.12, nv]); v = nv; });
  pts.push([qEnd, v]);
  return pts;
}

function spreadBars(p, bars) {
  const g = p.g.append("g");
  bars.forEach(([t, lo, mid, hi]) => {
    g.append("line").attr("x1", p.x(t)).attr("x2", p.x(t))
      .attr("y1", p.y(lo)).attr("y2", p.y(hi)).attr("stroke", "#000").attr("stroke-width", 3.2);
    g.append("circle").attr("cx", p.x(t)).attr("cy", p.y(mid)).attr("r", 4).attr("fill", "#000");
  });
}

function legend(box, items) {
  const g = svg.append("g");
  g.append("rect").attr("x", box[0]).attr("y", box[1]).attr("width", box[2]).attr("height", box[3])
    .attr("rx", 4).attr("fill", "#fff").attr("fill-opacity", 0.82)
    .attr("stroke", "#d4d4d4").attr("stroke-width", 1.2);
  items.forEach(it => {
    g.append("line").attr("x1", it.l0).attr("x2", it.l1).attr("y1", it.y).attr("y2", it.y)
      .attr("stroke", it.color).attr("stroke-width", 2.6);
    richText(g, it.tx, it.y + 6.5, it.segs, { size: 18 });
  });
}

const eastFmt = d => d3.format(",")(d).replace(",", "").replace("-", "\u2212");
const timeFmt = d => d3.format("02d")(d);

// ---------------------------------------------------------------
// Titles
// ---------------------------------------------------------------
const titleSegs = (name, hs, dir) => [
  { t: name + " - (" }, { t: "H", it: 1 }, { t: "S,SW", it: 1, sub: 1 },
  { t: ", " }, { t: "Dir.", it: 1 }, { t: `) = (${hs} m, ${dir}º)` }
];
const titleOpt = { size: 23, weight: "bold", anchor: "middle", family: "'Liberation Sans', Arial, sans-serif", sx: 1.24, fill: "#000" };
richText(svg, 345, 37, titleSegs("P3", "3.25", "277"), titleOpt);
richText(svg, 921, 37, titleSegs("P1", "6.38", "293"), titleOpt);

// ---------------------------------------------------------------
// Row 1: set-down / set-up
// ---------------------------------------------------------------
const pA = makePanel({ x0: 90, x1: 595, y0: 70, y1: 258, xDomain: [-63100, -62280], yDomain: [-8, 45],
  xTicks: eastTicksP3, yTicks: [0, 20, 40], xLabels: false, yFmt: d3.format("d") });
drawLines(pA, zipX(eastA, setupP3_1D), GRAY, 2.5);
drawLines(pA, zipX(eastA, setupP3_2D), BLUE, 2.8);

const pC = makePanel({ x0: 669, x1: 1178, y0: 70, y1: 258, xDomain: [-63600, -62135], yDomain: [-8.3, 60],
  xTicks: eastTicksP1, yTicks: [0, 20, 40, 60], xLabels: false, yFmt: d3.format("d") });
drawLines(pC, zipX(eastC, setupP1_1D), GRAY, 2.4);
drawLines(pC, zipX(eastC, setupP1_2D), BLUE, 2.8);

// ---------------------------------------------------------------
// Row 2: wave height and bottom profile
// ---------------------------------------------------------------
const pB = makePanel({ x0: 90, x1: 595, y0: 274, y1: 462, xDomain: [-63100, -62280], yDomain: [-0.7, 4.62],
  xTicks: eastTicksP3, yTicks: [0, 2, 4], xLabels: true, xFmt: eastFmt, yFmt: d3.format("d") });
drawLines(pB, zipX(eastB, hsP3_1D), GRAY, 2.5);
drawLines(pB, zipX(eastB, hsP3_2D), BLUE, 2.8);
drawLines(pB, [zBottomP3.map((v, i) => [zBottomP3East[i], v])], "#000", 2, d3.curveLinear);

const pD = makePanel({ x0: 669, x1: 1178, y0: 274, y1: 462, xDomain: [-63600, -62135], yDomain: [-0.7, 7.0],
  xTicks: eastTicksP1, yTicks: [0, 2, 4, 6], xLabels: true, xFmt: eastFmt, yFmt: d3.format("d") });
drawLines(pD, zipX(eastD, hsP1_1D), GRAY, 2.5);
drawLines(pD, zipX(eastD, hsP1_2D), BLUE, 2.8);
drawLines(pD, [zBottomP1.map((v, i) => [zBottomP1East[i], v])], "#000", 2, d3.curveLinear);

// ---------------------------------------------------------------
// Row 3: cumulative overtopping discharge
// ---------------------------------------------------------------
const pE = makePanel({ x0: 90, x1: 595, y0: 577, y1: 764, xDomain: [4.5, 22.4], yDomain: [-1.16, 28.3],
  xTicks: timeTicks, yTicks: [0, 10, 20], xLabels: false, yFmt: d3.format("d") });
drawLines(pE, qP3_1D.map(stepPoints), GRAY, 2.1);
drawLines(pE, qP3_2D.map(stepPoints), BLUE, 2.2);
spreadBars(pE, qP3Spread);

const pF = makePanel({ x0: 669, x1: 1178, y0: 577, y1: 764, xDomain: [4.5, 22.6], yDomain: [-4.6, 98],
  xTicks: timeTicks, yTicks: [0, 50], xLabels: false, yFmt: d3.format("d") });
drawLines(pF, qP1_1D.map(stepPoints), GRAY, 2.1);
drawLines(pF, qP1_2D.map(stepPoints), BLUE, 2.2);
spreadBars(pF, qP1Spread);

// ---------------------------------------------------------------
// Row 4: overtopping elevation
// ---------------------------------------------------------------
const pG = makePanel({ x0: 90, x1: 595, y0: 781, y1: 971, xDomain: [4.5, 22.4], yDomain: [3.923, 4.444],
  xTicks: timeTicks, yTicks: [4.0, 4.2, 4.4], xLabels: true, xFmt: timeFmt, yFmt: d3.format(".1f") });
drawLines(pG, overP3_1D, GRAY, 2.1);
drawLines(pG, overP3_2D, BLUE, 2.3);

const pH = makePanel({ x0: 669, x1: 1178, y0: 781, y1: 971, xDomain: [4.5, 22.6], yDomain: [4.99, 6.71],
  xTicks: timeTicks, yTicks: [5.5, 6.0, 6.5], xLabels: true, xFmt: timeFmt, yFmt: d3.format(".1f") });
drawLines(pH, overP1_1D, GRAY, 2.1);
drawLines(pH, overP1_2D, BLUE, 2.3);

// ---------------------------------------------------------------
// Axis titles
// ---------------------------------------------------------------
richText(svg, 30, 164, ["set-down / set-up"], { rotate: -90, anchor: "middle", sx: 1, size: 18 });
richText(svg, 52, 164, ["(cm)"], { rotate: -90, anchor: "middle", sx: 1, size: 18 });
richText(svg, 28, 368, ["meters"], { rotate: -90, anchor: "middle", sx: 1, size: 18 });
richText(svg, 27, 670, [{ t: "m", it: 1 }, { t: "3", sup: 1, it: 1 }, { t: "/m", it: 1 }], { rotate: -90, anchor: "middle", sx: 1, size: 18 });
richText(svg, 28, 876, ["Elevation (m)"], { rotate: -90, anchor: "middle", sx: 1, size: 18 });
richText(svg, 342, 523, ["Easting (m, ETRS89)"], { anchor: "middle" });
richText(svg, 923, 523, ["Easting (m, ETRS89)"], { anchor: "middle" });
richText(svg, 342, 1025, ["Simulation time (min.)"], { anchor: "middle" });
richText(svg, 923, 1025, ["Simulation time (min.)"], { anchor: "middle" });

// ---------------------------------------------------------------
// Legends
// ---------------------------------------------------------------
const etaSym = [{ t: "\u0394" }, { t: "\u03b7\u0304", it: 1, sub: 1 }];
legend([101, 80, 174, 72], [
  { y: 97, l0: 107, l1: 151, tx: 161, color: GRAY, segs: [...etaSym, { t: "1D-NH", dx: 20 }] },
  { y: 129, l0: 107, l1: 151, tx: 161, color: BLUE, segs: [...etaSym, { t: "2D-15", dx: 20 }] }
]);
legend([679, 80, 174, 70], [
  { y: 99, l0: 686, l1: 731, tx: 748, color: GRAY, segs: [...etaSym, { t: "1D-NH", dx: 16 }] },
  { y: 128, l0: 686, l1: 731, tx: 748, color: BLUE, segs: [...etaSym, { t: "2D-15", dx: 16 }] }
]);
const hsLegend = (l0, l1, tx) => [
  { y: 352, l0, l1, tx, color: "#000", segs: [{ t: "Z", it: 1 }, { t: "bottom", it: 1, sub: 1 }] },
  { y: 392, l0, l1, tx, color: GRAY, segs: [{ t: "H", it: 1 }, { t: "S,Tot", it: 1, sub: 1 }, { t: " 1D-NH" }] },
  { y: 430, l0, l1, tx, color: BLUE, segs: [{ t: "H", it: 1 }, { t: "S,Tot", it: 1, sub: 1 }, { t: " 2D-15" }] }
];
legend([100, 335, 168, 117], hsLegend(105, 128, 139));
legend([679, 335, 170, 117], hsLegend(686, 706, 717));
const qLegend = (l0, l1, tx) => [
  { y: 609, l0, l1, tx, color: GRAY, segs: [{ t: "q", it: 1 }, { t: "u,cum", it: 1, sub: 1 }, { t: " 1D-NH" }] },
  { y: 646, l0, l1, tx, color: BLUE, segs: [{ t: "q", it: 1 }, { t: "u,cum", it: 1, sub: 1 }, { t: " 2D-15" }] }
];
legend([100, 589, 197, 83], qLegend(106, 128, 138));
legend([679, 588, 195, 79], qLegend(686, 706, 717));
const oLegend = (l0, l1, tx) => [
  { y: 812, l0, l1, tx, color: GRAY, segs: ["Overtopping 1D-NH"] },
  { y: 843, l0, l1, tx, color: BLUE, segs: ["Overtopping 2D-15"] }
];
legend([100, 792, 264, 66], oLegend(105, 126, 141));
legend([903, 793, 259, 69], oLegend(914, 933, 939));
</script>
</body>
</html>
